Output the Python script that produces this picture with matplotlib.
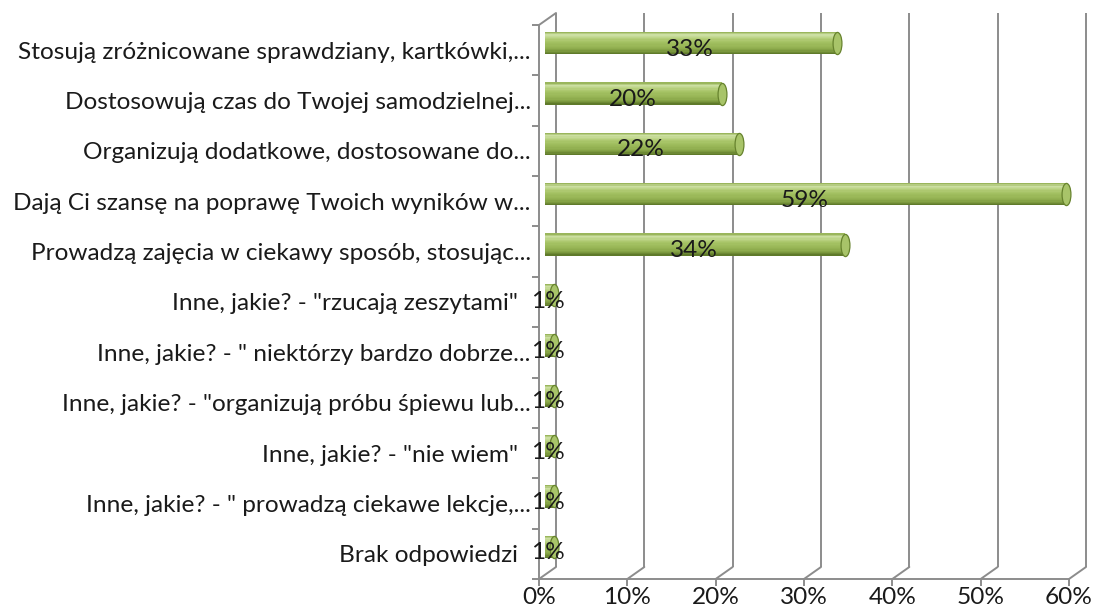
import numpy as np
import matplotlib
matplotlib.use('Agg')
import matplotlib.pyplot as plt
from matplotlib.path import Path
from matplotlib.transforms import Affine2D, offset_copy
from matplotlib.colors import LinearSegmentedColormap

# answers (top to bottom) and their shares in percent
categories = [
    'Stosują zróżnicowane sprawdziany, kartkówki,...',
    'Dostosowują czas do Twojej samodzielnej...',
    'Organizują dodatkowe, dostosowane do...',
    'Dają Ci szansę na poprawę Twoich wyników w...',
    'Prowadzą zajęcia w ciekawy sposób, stosując...',
    'Inne, jakie? - "rzucają zeszytami"  ',
    'Inne, jakie? - " niektórzy bardzo dobrze...',
    'Inne, jakie? - "organizują próbu śpiewu lub...',
    'Inne, jakie? - "nie wiem"  ',
    'Inne, jakie? - " prowadzą ciekawe lekcje,...',
    'Brak odpowiedzi  ',
]
values = [33, 20, 22, 59, 34, 1, 1, 1, 1, 1, 1]
x_ticks = [0, 10, 20, 30, 40, 50, 60]
x_ticklabels = ['0%', '10%', '20%', '30%', '40%', '50%', '60%']

FONT = 'Lato'
FS = 17.6
GRAY = '#8c8c8c'
TXT = '#1a1a1a'
DX, DY = 17, 12      # depth of the 3d box, pixels
BAR_H = 0.44          # cylinder thickness in category units

plt.rcParams['font.family'] = [FONT, 'DejaVu Sans']

fig = plt.figure(figsize=(10.93, 6.07), dpi=100)
ax = fig.add_axes([539 / 1093, 28 / 607, 530 / 1093, 554 / 607])
ax.set_xlim(0, 60)
ax.set_ylim(len(categories) - 0.5, -0.5)
ax.patch.set_visible(False)

ypos = np.arange(len(categories))
y_lo, y_hi = len(categories) - 0.5, -0.5

# back wall and floor
tr_back = offset_copy(ax.transData, fig=fig, x=DX, y=DY, units='dots')
ax.vlines(x_ticks, y_lo, y_hi, colors=GRAY, lw=1.4, transform=tr_back,
          clip_on=False, zorder=1)
for xt in x_ticks:
    ax.annotate('', xy=(xt, y_lo), xytext=(DX, DY), textcoords='offset pixels',
                arrowprops=dict(arrowstyle='-', color=GRAY, lw=1.4,
                                shrinkA=0, shrinkB=0), annotation_clip=False)
ax.annotate('', xy=(0, y_hi), xytext=(DX, DY), textcoords='offset pixels',
            arrowprops=dict(arrowstyle='-', color=GRAY, lw=1.4,
                            shrinkA=0, shrinkB=0), annotation_clip=False)

# cylinders, drawn as horizontal bands for the shading
tr_bar = offset_copy(ax.transData, fig=fig, x=6, y=7, units='dots')
shade = LinearSegmentedColormap.from_list(
    'cyl', ['#9ab65c', '#cde0a3', '#bfd68c', '#afca72', '#a3c163',
            '#9dbb5b', '#97b555', '#8dab4c', '#7a973d', '#5f7a2a'])
n_bands = 18
band = BAR_H / n_bands
for k in range(n_bands):
    ax.barh(ypos - BAR_H / 2 + (k + 0.5) * band, values, height=band * 1.2,
            left=0, color=shade(k / (n_bands - 1)), lw=0,
            transform=tr_bar, clip_on=False, zorder=3)

cap = Path.unit_circle().transformed(Affine2D().scale(0.4, 1.0))
ax.scatter(values, ypos, s=(BAR_H * 50.4 * 0.72) ** 2,
           marker=cap, c='#a8c469', edgecolors='#67832e', linewidths=0.9,
           transform=tr_bar, clip_on=False, zorder=4)

# value labels
tr_lab = offset_copy(ax.transData, fig=fig, x=5, y=1, units='dots')
for y, v in zip(ypos, values):
    ax.text(v / 2, y, f'{v}%', ha='center', va='center', fontsize=FS,
            color=TXT, transform=tr_lab, zorder=5)

# front axes
for side in ('top', 'right'):
    ax.spines[side].set_visible(False)
for side in ('left', 'bottom'):
    ax.spines[side].set_color(GRAY)
    ax.spines[side].set_linewidth(1.4)

ax.set_yticks(ypos)
ax.set_yticklabels(categories, fontsize=FS, color=TXT)
ax.set_yticks(np.arange(len(categories) + 1) - 0.5, minor=True)
ax.tick_params(axis='y', which='major', length=0, pad=6)
ax.tick_params(axis='y', which='minor', length=5, width=1.4, color=GRAY,
               direction='out')
ax.set_xticks(x_ticks)
ax.set_xticklabels(x_ticklabels, fontsize=FS, color=TXT)
ax.tick_params(axis='x', length=5, width=1.4, color=GRAY, direction='out', pad=1)

fig.savefig('out.png', dpi=100)
